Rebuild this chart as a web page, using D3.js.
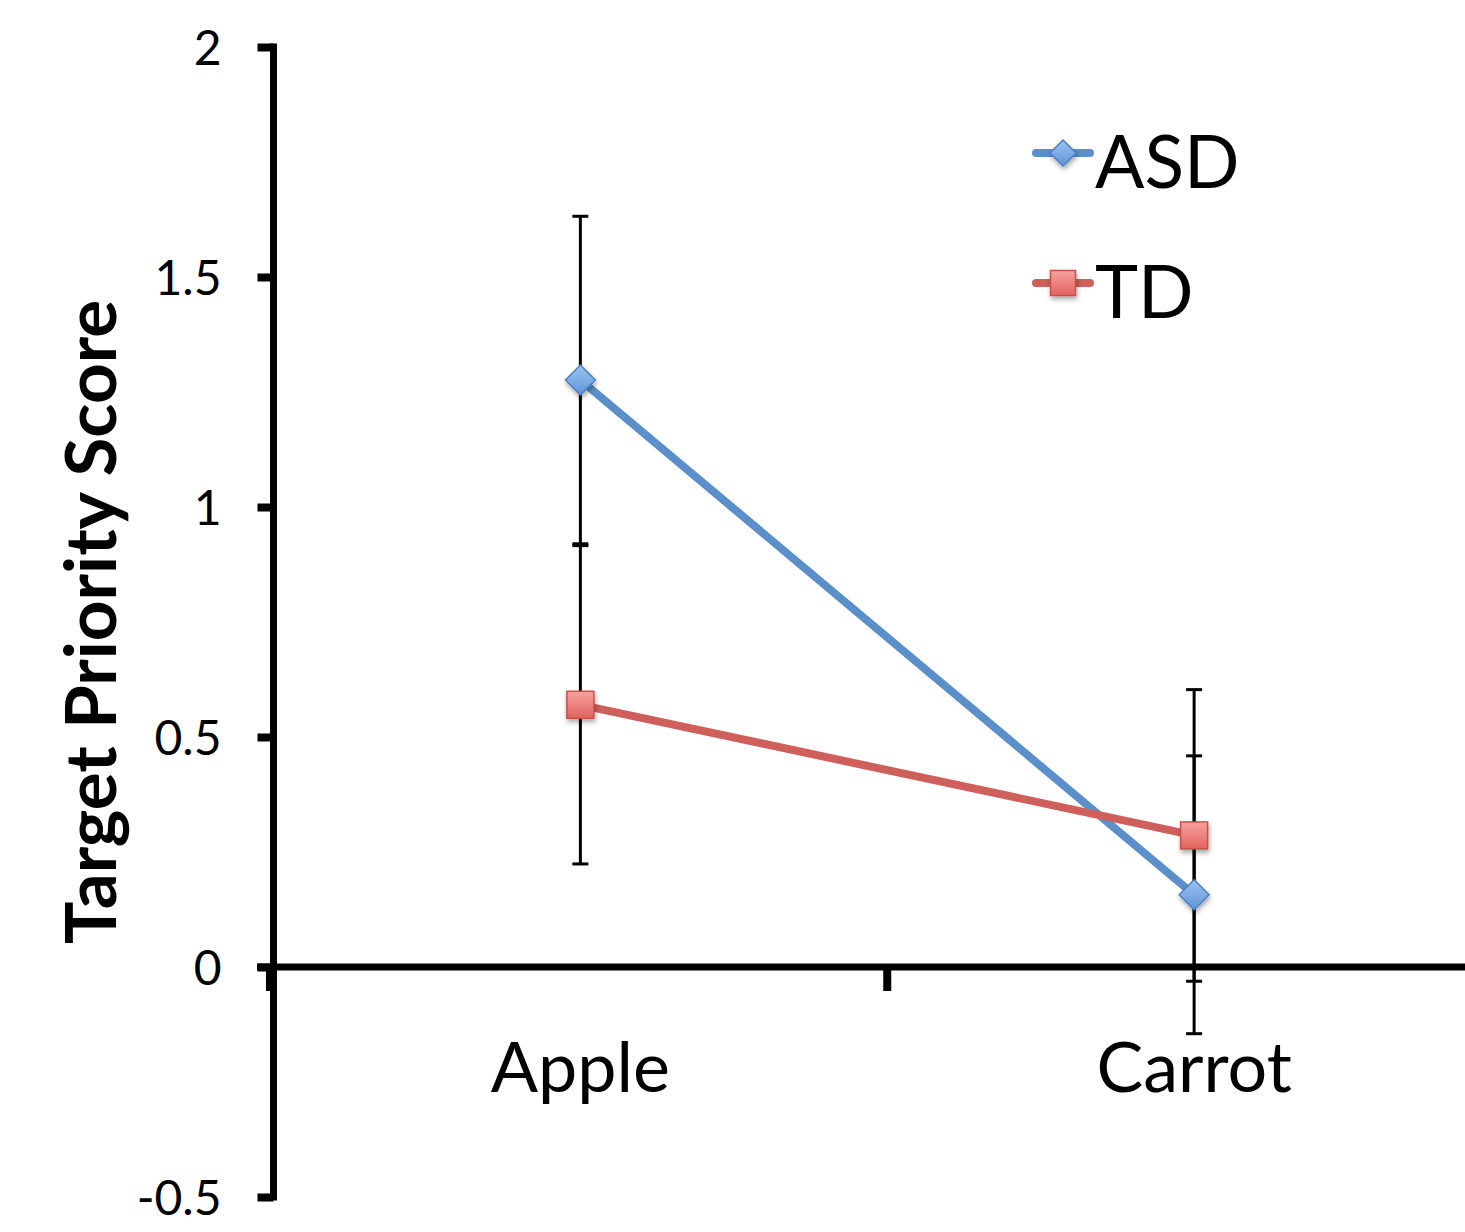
<!DOCTYPE html>
<html><head><meta charset="utf-8">
<script src="https://cdn.jsdelivr.net/npm/d3@7"></script>
<style>html,body{margin:0;padding:0;background:#fff;overflow:hidden}</style>
</head><body>
<script>
const categories = ["Apple", "Carrot"];
const seriesNames = ["ASD", "TD"];
const asdValues = [1.276, 0.157];
const asdErrors = [0.356, 0.302];
const tdValues = [0.570, 0.286];
const tdErrors = [0.346, 0.317];
const yTicks = [2, 1.5, 1, 0.5, 0, -0.5];
const yTickLabels = ["2", "1.5", "1", "0.5", "0", "-0.5"];
const yTitle = "Target Priority Score";

const W = 1465, H = 1232;
const FONT = "Lato, 'Open Sans', sans-serif";
const svg = d3.select("body").append("svg").attr("width", W).attr("height", H);
const defs = svg.append("defs");

const f = defs.append("filter").attr("id","sh").attr("x","-50%").attr("y","-50%").attr("width","200%").attr("height","200%");
f.append("feDropShadow").attr("dx",1).attr("dy",3).attr("stdDeviation",2.5).attr("flood-color","#000").attr("flood-opacity",0.35);

const gB = defs.append("linearGradient").attr("id","gB").attr("x1",0).attr("y1",0).attr("x2",0).attr("y2",1);
gB.append("stop").attr("offset","0%").attr("stop-color","#9DC3F2");
gB.append("stop").attr("offset","100%").attr("stop-color","#5E95D6");
const gR = defs.append("linearGradient").attr("id","gR").attr("x1",0).attr("y1",0).attr("x2",0).attr("y2",1);
gR.append("stop").attr("offset","0%").attr("stop-color","#F6A3A0");
gR.append("stop").attr("offset","100%").attr("stop-color","#E2635E");

const y = d3.scaleLinear().domain([-0.5, 2]).range([1197, 47]);
const x = d3.scaleBand().domain(categories).range([273.5, 1501]).paddingInner(0).paddingOuter(0);
const cx = c => x(c) + x.bandwidth()/2;

// y axis
const yAxis = d3.axisLeft(y).tickValues(yTicks).tickFormat((d,i)=>yTickLabels[i]).tickSize(16).tickSizeOuter(0).tickPadding(36);
const ga = svg.append("g").attr("transform","translate(273.5,0)").call(yAxis);
ga.select(".domain").attr("stroke","#000").attr("stroke-width",7).attr("d", `M0,${y(2)-3.5}V${y(-0.5)+3.5}`);
ga.selectAll(".tick line").attr("stroke","#000").attr("stroke-width",8);
ga.selectAll(".tick text").attr("font-family",FONT).attr("font-size",48).attr("fill","#000").attr("dy","0.36em");

// x axis at y=0
const xAxis = d3.axisBottom(x).tickSize(0).tickSizeOuter(0);
const gx = svg.append("g").attr("transform",`translate(0,${y(0)})`).call(xAxis);
gx.select(".domain").attr("stroke","#000").attr("stroke-width",7).attr("d","M257,0H1501");
gx.selectAll(".tick text").attr("font-family",FONT).attr("font-size",70).attr("fill","#000").attr("dy",0).attr("y",125);
// category boundary ticks
const bounds = [x(categories[0]), x(categories[1]), x(categories[1]) + x.bandwidth()];
gx.selectAll(".bt").data(bounds).enter().append("line")
  .attr("x1",(d,i)=> i===0 ? d-3.5 : d).attr("x2",(d,i)=> i===0 ? d-3.5 : d)
  .attr("y1",3).attr("y2",24).attr("stroke","#000").attr("stroke-width",8);

// y title
svg.append("text").attr("transform",`translate(116,${(y(-0.5)+y(2))/2 }) rotate(-90)`)
  .attr("text-anchor","middle").attr("font-family",FONT).attr("font-weight","bold")
  .attr("font-size",71).attr("fill","#000").text(yTitle);

// error bars
const series = [
  {name: seriesNames[0], vals: asdValues, errs: asdErrors, color:"#5B8FC9", grad:"url(#gB)", stroke:"#4F7FBF", shape:"diamond"},
  {name: seriesNames[1], vals: tdValues, errs: tdErrors, color:"#CF5F5A", grad:"url(#gR)", stroke:"#C5504C", shape:"square"}
];
const eb = svg.append("g");
series.forEach(s => {
  categories.forEach((c,i) => {
    const v = s.vals[i], e = s.errs[i];
    eb.append("line").attr("x1",cx(c)).attr("x2",cx(c)).attr("y1",y(v+e)).attr("y2",y(v-e)).attr("stroke","#000").attr("stroke-width",3);
    [v+e, v-e].forEach(t => eb.append("line").attr("x1",cx(c)-8).attr("x2",cx(c)+8).attr("y1",y(t)).attr("y2",y(t)).attr("stroke","#000").attr("stroke-width",3));
  });
});

// lines
const line = d3.line().x((d,i)=>cx(categories[i])).y(d=>y(d));
series.forEach(s => {
  svg.append("path").attr("d", line(s.vals)).attr("fill","none").attr("stroke",s.color).attr("stroke-width",8).attr("stroke-linecap","round");
});
function marker(g, s, px, py, size){
  if (s.shape === "diamond") {
    const r = size/2;
    g.append("path").attr("d",`M${px},${py-r}L${px+r},${py}L${px},${py+r}L${px-r},${py}Z`)
     .attr("fill",s.grad).attr("stroke",s.stroke).attr("stroke-width",1.5).attr("filter","url(#sh)");
  } else {
    g.append("rect").attr("x",px-size/2).attr("y",py-size/2).attr("width",size).attr("height",size)
     .attr("fill",s.grad).attr("stroke",s.stroke).attr("stroke-width",1.5).attr("filter","url(#sh)");
  }
}
series.forEach(s => {
  s.vals.forEach((v,i) => marker(svg, s, cx(categories[i]), y(v), s.shape==="diamond"?30:27));
});

// legend
const leg = svg.append("g");
const legY = [153, 283];
series.forEach((s,i) => {
  leg.append("line").attr("x1",1036).attr("x2",1090).attr("y1",legY[i]).attr("y2",legY[i]).attr("stroke",s.color).attr("stroke-width",8).attr("stroke-linecap","round");
  marker(leg, s, 1063, legY[i], s.shape==="diamond"?26:25);
  leg.append("text").attr("x",1095).attr("y",legY[i]+35).attr("font-family",FONT).attr("font-size",73).attr("fill","#000").text(s.name);
});
</script>
</body></html>
